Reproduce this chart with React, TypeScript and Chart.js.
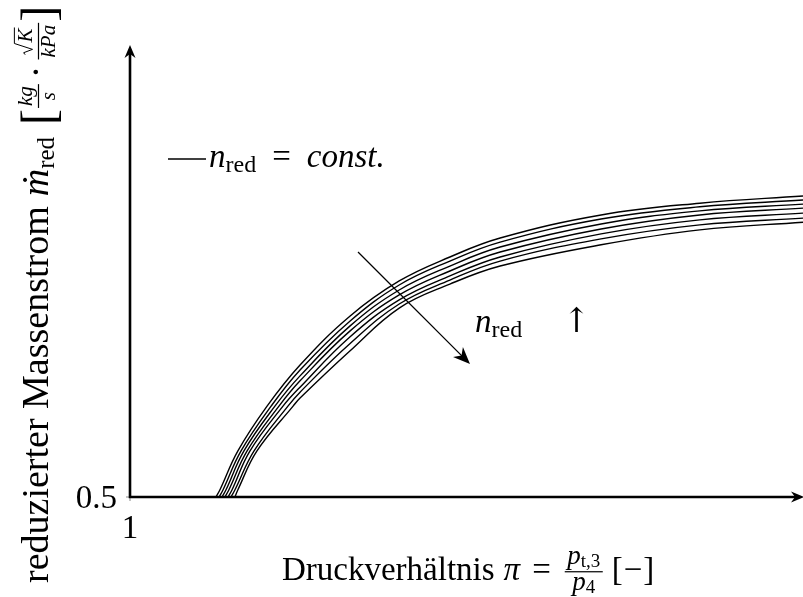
import React, { useEffect, useRef } from "react";
import { Chart, registerables } from "chart.js";

Chart.register(...registerables);

// Reduced mass flow (ṁ_red) values where the pressure ratio was taken on the steep branch
const massLevels = [0.5, 0.516, 0.602, 0.701];
// Pressure ratio (π) values where the mass flow was taken on the flat branch
const piLevels = [1.758, 1.98, 2.2, 2.426, 2.65, 3.1, 3.54, 4.0];

// Speed lines n1 (lowest) … n7 (highest)
const n1Pi = [1.383, 1.401, 1.481, 1.611];
const n1Mass = [0.792, 0.9, 0.978, 1.031, 1.073, 1.124, 1.15, 1.166];
const n2Pi = [1.397, 1.415, 1.495, 1.629];
const n2Mass = [0.781, 0.889, 0.969, 1.022, 1.064, 1.115, 1.142, 1.157];
const n3Pi = [1.41, 1.428, 1.508, 1.646];
const n3Mass = [0.768, 0.878, 0.958, 1.011, 1.053, 1.104, 1.133, 1.148];
const n4Pi = [1.423, 1.441, 1.522, 1.664];
const n4Mass = [0.757, 0.867, 0.947, 1.0, 1.042, 1.093, 1.124, 1.139];
const n5Pi = [1.437, 1.455, 1.535, 1.682];
const n5Mass = [0.743, 0.854, 0.936, 0.989, 1.031, 1.082, 1.113, 1.128];
const n6Pi = [1.45, 1.468, 1.553, 1.704];
const n6Mass = [0.732, 0.839, 0.927, 0.98, 1.022, 1.071, 1.102, 1.117];
const n7Pi = [1.468, 1.481, 1.566, 1.727];
const n7Mass = [0.719, 0.823, 0.918, 0.971, 1.011, 1.058, 1.091, 1.108];

const speedLines = [
  [n1Pi, n1Mass],
  [n2Pi, n2Mass],
  [n3Pi, n3Mass],
  [n4Pi, n4Mass],
  [n5Pi, n5Mass],
  [n6Pi, n6Mass],
  [n7Pi, n7Mass],
];

const xMin = 1;
const xMax = 4;
const yMin = 0.5;
const yMax = 1.5;
const xTickLabel = "1";
const yTickLabel = "0.5";

const SERIF = '"Liberation Serif", "DejaVu Serif", serif';
const ARROWFONT = '"DejaVu Serif", serif';

type Item =
  | { t: string; s: number; it?: boolean; dy?: number; f?: string }
  | { frac: [Item[], Item[]]; s: number; up: number; down: number; pad?: number }
  | { sqrt: Item[]; s: number }
  | { gap: number };

function setFont(ctx: CanvasRenderingContext2D, s: number, it?: boolean, f?: string) {
  ctx.font = `${it ? "italic " : ""}${s}px ${f || SERIF}`;
}

function measure(ctx: CanvasRenderingContext2D, items: Item[]): number {
  let w = 0;
  for (const it of items) w += measureItem(ctx, it);
  return w;
}

function measureItem(ctx: CanvasRenderingContext2D, it: Item): number {
  if ("gap" in it) return it.gap;
  if ("t" in it) {
    setFont(ctx, it.s, it.it, it.f);
    return ctx.measureText(it.t).width;
  }
  if ("frac" in it)
    return Math.max(measure(ctx, it.frac[0]), measure(ctx, it.frac[1])) + (it.pad ?? 4);
  return measure(ctx, it.sqrt) + it.s * 0.62 + 2;
}

function drawItems(ctx: CanvasRenderingContext2D, items: Item[], x: number, y: number): number {
  for (const it of items) x = drawItem(ctx, it, x, y);
  return x;
}

function drawItem(ctx: CanvasRenderingContext2D, it: Item, x: number, y: number): number {
  if ("gap" in it) return x + it.gap;
  if ("t" in it) {
    setFont(ctx, it.s, it.it, it.f);
    ctx.fillText(it.t, x, y + (it.dy || 0));
    return x + ctx.measureText(it.t).width;
  }
  if ("frac" in it) {
    const w = measureItem(ctx, it);
    const nw = measure(ctx, it.frac[0]);
    const dw = measure(ctx, it.frac[1]);
    const axis = y - 0.25 * it.s;
    ctx.fillRect(x, axis - 0.6, w, 1.2);
    drawItems(ctx, it.frac[0], x + (w - nw) / 2, axis - it.up);
    drawItems(ctx, it.frac[1], x + (w - dw) / 2, axis + it.down);
    return x + w;
  }
  const bw = measure(ctx, it.sqrt);
  const s = it.s;
  const h = s * 0.72;
  const rx = x + s * 0.58;
  ctx.save();
  ctx.lineWidth = 1;
  ctx.beginPath();
  ctx.moveTo(x + 1, y - h * 0.42);
  ctx.lineTo(x + s * 0.14, y - h * 0.52);
  ctx.lineTo(x + s * 0.3, y + 1);
  ctx.lineTo(rx, y - h - 2);
  ctx.lineTo(rx + bw + 2, y - h - 2);
  ctx.stroke();
  ctx.restore();
  drawItems(ctx, it.sqrt, rx + 1, y);
  return rx + bw + 2;
}

function arrowHead(
  ctx: CanvasRenderingContext2D,
  tx: number,
  ty: number,
  angle: number,
  len: number,
  half: number,
  notch: number
) {
  ctx.save();
  ctx.translate(tx, ty);
  ctx.rotate(angle);
  ctx.beginPath();
  ctx.moveTo(0, 0);
  ctx.lineTo(-len, -half);
  ctx.lineTo(-notch, 0);
  ctx.lineTo(-len, half);
  ctx.closePath();
  ctx.fill();
  ctx.restore();
}

const xLabel: Item[] = [
  { t: "Druckverhältnis", s: 33 },
  { gap: 9 },
  { t: "π", s: 33, it: true },
  { gap: 12 },
  { t: "=", s: 33 },
  { gap: 14 },
  {
    frac: [
      [{ t: "p", s: 27, it: true }, { t: "t,3", s: 19, dy: 3 }],
      [{ t: "p", s: 27, it: true }, { t: "4", s: 19, dy: 3 }],
    ],
    s: 33,
    up: 8,
    down: 18,
    pad: 5,
  },
  { gap: 9 },
  { t: "[", s: 33 },
  { gap: 1 },
  { t: "−", s: 33 },
  { gap: 1 },
  { t: "]", s: 33 },
];

const yLabel: Item[] = [
  { t: "reduzierter Massenstrom", s: 38 },
  { gap: 10 },
  { t: "ṁ", s: 38, it: true },
  { t: "red", s: 25, dy: 6 },
  { gap: 12 },
  { t: "[", s: 48, dy: 6 },
  { gap: 1 },
  {
    frac: [[{ t: "kg", s: 21, it: true }], [{ t: "s", s: 21, it: true }]],
    s: 38,
    up: 7,
    down: 16,
  },
  { gap: 6 },
  { t: "·", s: 38 },
  { gap: 6 },
  {
    frac: [[{ sqrt: [{ t: "K", s: 21, it: true }], s: 21 }], [{ t: "kPa", s: 21, it: true }]],
    s: 38,
    up: 7,
    down: 16,
  },
  { gap: 1 },
  { t: "]", s: 48, dy: 6 },
];

const legendLabel: Item[] = [
  { t: "n", s: 33, it: true },
  { t: "red", s: 24, dy: 5 },
  { gap: 16 },
  { t: "=", s: 33 },
  { gap: 16 },
  { t: "const.", s: 33, it: true },
];

const trendLabel: Item[] = [
  { t: "n", s: 33, it: true },
  { t: "red", s: 24, dy: 5 },
  { gap: 40 },
  { t: "↑", s: 34, f: ARROWFONT },
];

const decorations = {
  id: "decorations",
  afterDraw(chart: Chart) {
    const ctx = chart.ctx;
    const xs = chart.scales.x;
    const ys = chart.scales.y;
    const x0 = xs.getPixelForValue(xMin);
    const y0 = ys.getPixelForValue(yMin);
    const top = chart.chartArea.top;
    const right = chart.chartArea.right;

    ctx.save();
    ctx.fillStyle = "#000";

    // tiny ticks at the origin
    ctx.lineWidth = 1;
    ctx.strokeStyle = "#888";
    ctx.beginPath();
    ctx.moveTo(x0 - 4, y0);
    ctx.lineTo(x0, y0);
    ctx.moveTo(x0, y0);
    ctx.lineTo(x0, y0 + 4);
    ctx.stroke();

    // axes
    ctx.strokeStyle = "#000";
    ctx.lineWidth = 2.6;
    ctx.beginPath();
    ctx.moveTo(x0, y0 + 1.3);
    ctx.lineTo(x0, top + 6);
    ctx.moveTo(x0 - 1.3, y0);
    ctx.lineTo(right - 5, y0);
    ctx.stroke();
    arrowHead(ctx, x0, top, -Math.PI / 2, 13, 5.5, 9);
    arrowHead(ctx, right + 1, y0, 0, 13, 5.5, 9);

    // tick labels
    setFont(ctx, 33);
    ctx.textAlign = "right";
    ctx.fillText(yTickLabel, x0 - 13, y0 + 11);
    ctx.textAlign = "center";
    ctx.fillText(xTickLabel, x0, y0 + 41);
    ctx.textAlign = "left";

    // axis titles
    drawItems(ctx, xLabel, 282, 580);
    ctx.save();
    ctx.translate(48, 583);
    ctx.rotate(-Math.PI / 2);
    drawItems(ctx, yLabel, 0, 0);
    ctx.restore();

    // legend entry
    ctx.lineWidth = 1.3;
    ctx.beginPath();
    ctx.moveTo(168, 159);
    ctx.lineTo(206, 159);
    ctx.stroke();
    drawItems(ctx, legendLabel, 209, 167);

    // trend arrow across the speed lines
    const ax1 = 358, ay1 = 252, ax2 = 470, ay2 = 364;
    const ang = Math.atan2(ay2 - ay1, ax2 - ax1);
    ctx.lineWidth = 1.3;
    ctx.beginPath();
    ctx.moveTo(ax1, ay1);
    ctx.lineTo(ax2 - 8 * Math.cos(ang), ay2 - 8 * Math.sin(ang));
    ctx.stroke();
    arrowHead(ctx, ax2, ay2, ang, 17, 7, 12);
    drawItems(ctx, trendLabel, 475, 332);

    ctx.restore();
  },
};

export default function App() {
  const ref = useRef<HTMLCanvasElement>(null);

  useEffect(() => {
    const datasets = speedLines.map(([pis, masses], i) => ({
      label: `n${i + 1}`,
      data: massLevels
        .map((m, k) => ({ x: pis[k], y: m }))
        .concat(piLevels.map((p, k) => ({ x: p, y: masses[k] }))),
      borderColor: "#000",
      borderWidth: 1.4,
      pointRadius: 0,
      fill: false,
      tension: 0.4,
    }));

    const chart = new Chart(ref.current!, {
      type: "line",
      data: { datasets },
      options: {
        animation: false,
        responsive: false,
        devicePixelRatio: 1,
        layout: { padding: { left: 130, right: 0, top: 45, bottom: 100 } },
        plugins: { legend: { display: false }, tooltip: { enabled: false } },
        scales: {
          x: { type: "linear", min: xMin, max: xMax, display: false },
          y: { type: "linear", min: yMin, max: yMax, display: false },
        },
      },
      plugins: [decorations],
    });
    return () => chart.destroy();
  }, []);

  return (
    <div
      style={{
        position: "absolute",
        left: 0,
        top: 0,
        width: 803,
        height: 597,
        background: "#fff",
        overflow: "hidden",
      }}
    >
      <canvas ref={ref} width={803} height={597} style={{ display: "block" }} />
    </div>
  );
}
